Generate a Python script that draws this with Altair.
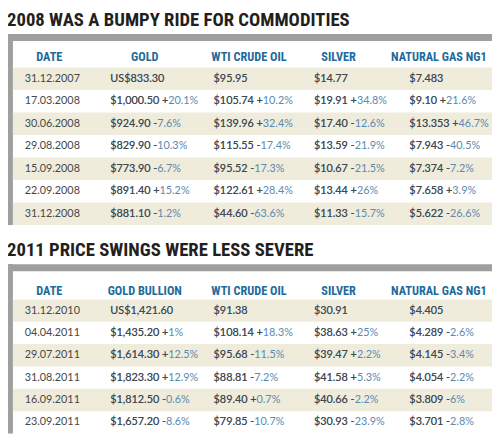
import altair as alt
import pandas as pd

# ---------------- data ----------------
title_1 = "2008 WAS A BUMPY RIDE FOR COMMODITIES"
headers_1 = ["DATE", "GOLD", "WTI CRUDE OIL", "SILVER", "NATURAL GAS NG1"]
dates_1 = ["31.12.2007", "17.03.2008", "30.06.2008", "29.08.2008", "15.09.2008", "22.09.2008", "31.12.2008"]
gold_1 = ["US$833.30", "$1,000.50", "$924.90", "$829.90", "$773.90", "$891.40", "$881.10"]
gold_chg_1 = [None, 20.1, -7.6, -10.3, -6.7, 15.2, -1.2]
wti_1 = ["$95.95", "$105.74", "$139.96", "$115.55", "$95.52", "$122.61", "$44.60"]
wti_chg_1 = [None, 10.2, 32.4, -17.4, -17.3, 28.4, -63.6]
silver_1 = ["$14.77", "$19.91", "$17.40", "$13.59", "$10.67", "$13.44", "$11.33"]
silver_chg_1 = [None, 34.8, -12.6, -21.9, -21.5, 26, -15.7]
gas_1 = ["$7.483", "$9.10", "$13.353", "$7.943", "$7.374", "$7.658", "$5.622"]
gas_chg_1 = [None, 21.6, 46.7, -40.5, -7.2, 3.9, -26.6]

title_2 = "2011 PRICE SWINGS WERE LESS SEVERE"
headers_2 = ["DATE", "GOLD BULLION", "WTI CRUDE OIL", "SILVER", "NATURAL GAS NG1"]
dates_2 = ["31.12.2010", "04.04.2011", "29.07.2011", "31.08.2011", "16.09.2011", "23.09.2011"]
gold_2 = ["US$1,421.60", "$1,435.20", "$1,614.30", "$1,823.30", "$1,812.50", "$1,657.20"]
gold_chg_2 = [None, 1, 12.5, 12.9, -0.6, -8.6]
wti_2 = ["$91.38", "$108.14", "$95.68", "$88.81", "$89.40", "$79.85"]
wti_chg_2 = [None, 18.3, -11.5, -7.2, 0.7, -10.7]
silver_2 = ["$30.91", "$38.63", "$39.47", "$41.58", "$40.66", "$30.93"]
silver_chg_2 = [None, 25, 2.2, 5.3, -2.2, -23.9]
gas_2 = ["$4.405", "$4.289", "$4.145", "$4.054", "$3.809", "$3.701"]
gas_chg_2 = [None, -2.6, -3.4, -2.2, -6, -2.8]

# ---------------- style ----------------
W = 494
FRAME = 7
GRAY = "#9f9f9f"
BEIGE = "#f0ecdc"
HEAD = "#1e6a9c"
TXT = "#474747"
PCT = "#5b8ab0"
HEAD_FONT = "'Roboto Condensed', 'DejaVu Sans Condensed', 'Liberation Sans Narrow', 'Arial Narrow', Roboto, sans-serif"
BODY_FONT = "Lato"
VALUE_X = [47, 106, 211, 313, 410]
HEAD_X = [44, 141, 247, 338, 440]


def table(title, headers, dates, cols, height, ymin, head_y):
    n = len(dates)
    cells = []
    for ci, (prices, chgs) in enumerate(cols, start=1):
        for r in range(n):
            p = prices[r]
            c = chgs[r]
            if c is None:
                prefix, full = p, p
            else:
                s = f"{c:+g}"
                prefix = p + " " + s[0]
                full = p + " " + s + "%"
            cells.append(dict(row=r, ci=ci, prefix=prefix, full=full))
    cells = pd.DataFrame(cells)
    date_df = pd.DataFrame({"row": list(range(n)), "ci": [0] * n, "label": dates})
    head_df = pd.DataFrame({"ci": list(range(5)), "label": headers})
    shade_df = pd.DataFrame({"row": [r for r in range(n) if r % 2 == 0]})
    one = pd.DataFrame({"k": [0]})

    ysc = alt.Scale(domain=[ymin, n], reverse=True, nice=False, zero=False)
    xsc = alt.Scale(domain=[0, 1, 2, 3, 4], range=VALUE_X)
    hsc = alt.Scale(domain=[0, 1, 2, 3, 4], range=HEAD_X)

    frame_top = alt.Chart(one).mark_rect(color=GRAY).encode(
        x=alt.value(0), x2=alt.value(W), y=alt.value(0), y2=alt.value(FRAME))
    frame_left = alt.Chart(one).mark_rect(color=GRAY).encode(
        x=alt.value(0), x2=alt.value(FRAME), y=alt.value(0), y2=alt.value(height))
    shade = alt.Chart(shade_df).transform_calculate(row2="datum.row + 1").mark_rect(
        color=BEIGE).encode(
        x=alt.value(FRAME), x2=alt.value(W),
        y=alt.Y("row:Q", scale=ysc, axis=None), y2="row2:Q")
    head = alt.Chart(head_df).mark_text(
        font=HEAD_FONT, fontWeight="bold", fontSize=12.5, color=HEAD,
        align="center", baseline="middle").encode(
        x=alt.X("ci:Q", scale=hsc, axis=None),
        y=alt.Y(datum=head_y, type="quantitative", scale=ysc, axis=None),
        text="label:N")
    date_t = alt.Chart(date_df).transform_calculate(yc="datum.row + 0.5").mark_text(
        font=BODY_FONT, fontSize=11, color=TXT, align="center", baseline="middle").encode(
        x=alt.X("ci:Q", scale=xsc, axis=None),
        y=alt.Y("yc:Q", scale=ysc, axis=None), text="label:N")
    full_t = alt.Chart(cells).transform_calculate(yc="datum.row + 0.5").mark_text(
        font=BODY_FONT, fontSize=11, color=PCT, align="left", baseline="middle").encode(
        x=alt.X("ci:Q", scale=xsc, axis=None),
        y=alt.Y("yc:Q", scale=ysc, axis=None), text="full:N")
    pre_t = alt.Chart(cells).transform_calculate(yc="datum.row + 0.5").mark_text(
        font=BODY_FONT, fontSize=11, color=TXT, align="left", baseline="middle").encode(
        x=alt.X("ci:Q", scale=xsc, axis=None),
        y=alt.Y("yc:Q", scale=ysc, axis=None), text="prefix:N")

    return alt.layer(frame_top, frame_left, shade, head, date_t, full_t, pre_t).resolve_scale(
        x="independent").properties(
        width=W, height=height,
        title=alt.Title(title, anchor="start", font=HEAD_FONT, fontSize=19,
                        fontWeight="bold", color="#231f20", offset=4, dx=1))


t1 = table(title_1, headers_1, dates_1,
           [(gold_1, gold_chg_1), (wti_1, wti_chg_1), (silver_1, silver_chg_1), (gas_1, gas_chg_1)],
           194, -1.49, -0.46)
t2 = table(title_2, headers_2, dates_2,
           [(gold_2, gold_chg_2), (wti_2, wti_chg_2), (silver_2, silver_chg_2), (gas_2, gas_chg_2)],
           172, -1.57, -0.38)

chart = alt.vconcat(t1, t2, spacing=17).properties(
    padding={"top": 0, "left": -2, "right": 0, "bottom": 0}).configure_view(stroke=None)
chart.save("out.html", embed_options={"renderer": "svg", "actions": False})
